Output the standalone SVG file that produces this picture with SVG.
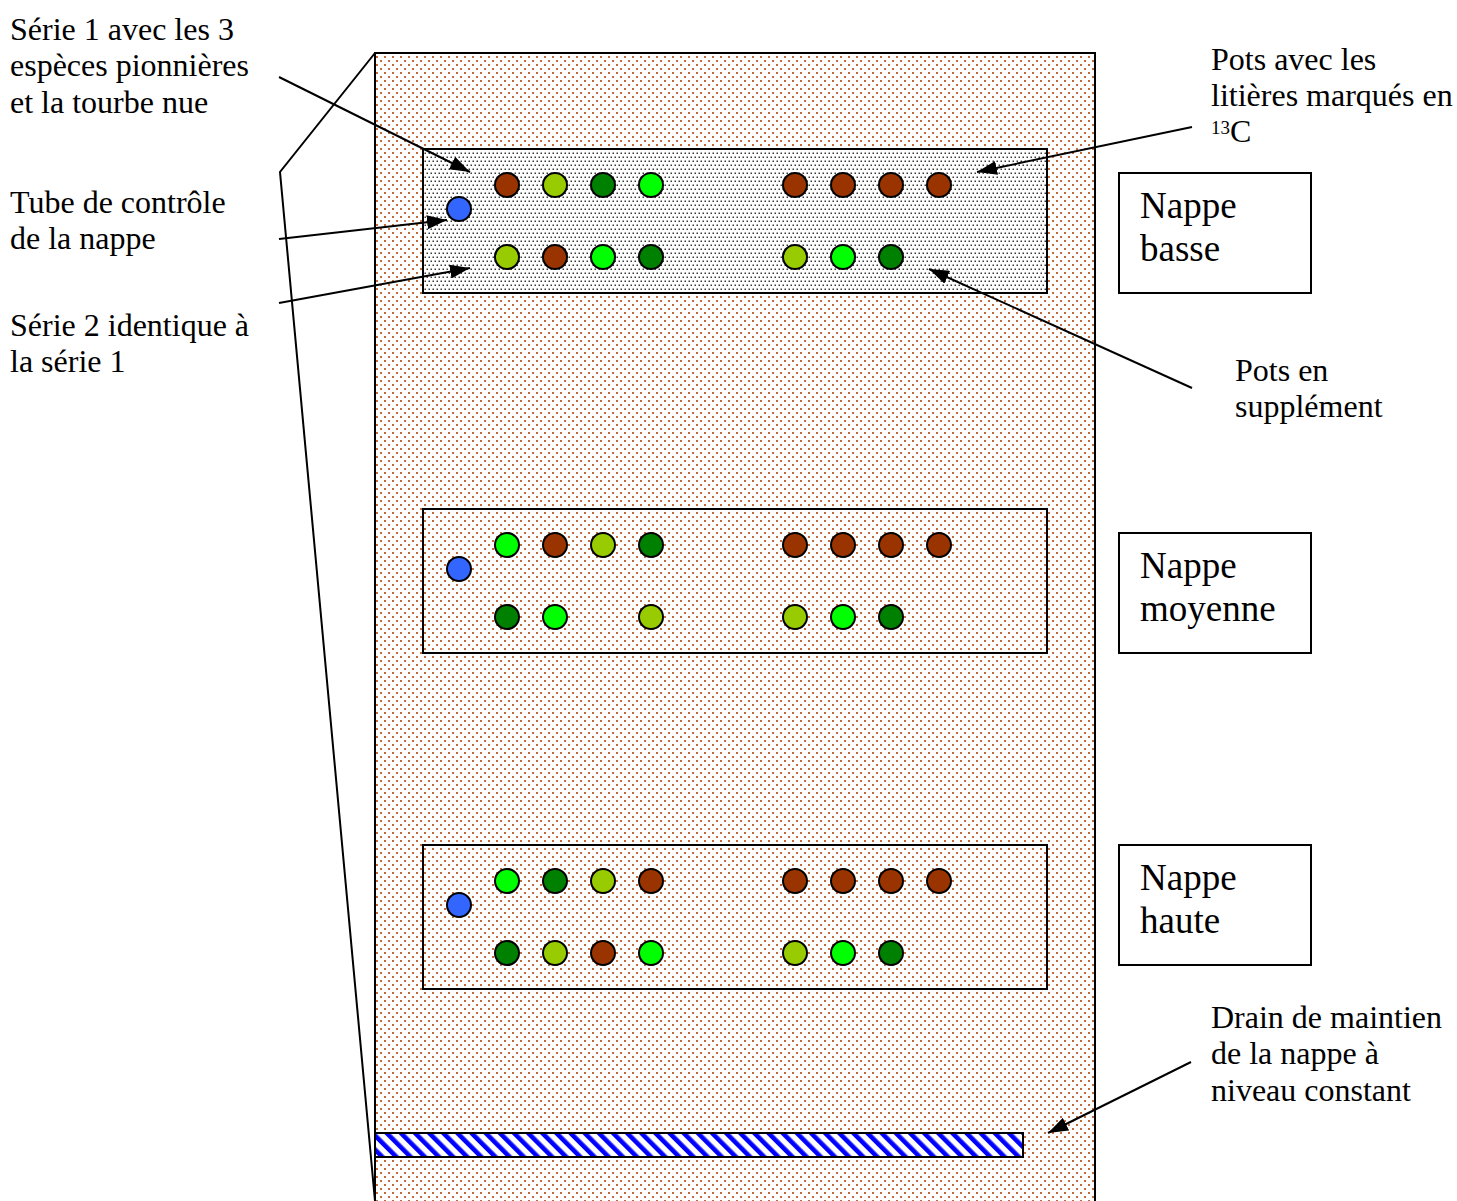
<svg xmlns="http://www.w3.org/2000/svg" width="1457" height="1201" viewBox="0 0 1457 1201">
  <style>
    .lbl { font-family: "Liberation Serif", "Times New Roman", serif; font-size: 32px; fill: #000; }
    .nap { font-family: "Liberation Serif", "Times New Roman", serif; font-size: 37px; fill: #000; }
    .frame { fill: none; stroke: #000; stroke-width: 2; }
    .pot { stroke: #000; stroke-width: 2; }
    .br { fill: #993300; }
    .yg { fill: #99CC00; }
    .dg { fill: #008000; }
    .bg { fill: #00FF00; }
    .tube { fill: #3366FF; }
    .conn { fill: none; stroke: #000; stroke-width: 2; }
  </style>
  <defs>
    <!-- peat background: sparse brown dots -->
    <pattern id="peat" patternUnits="userSpaceOnUse" width="8" height="8">
      <rect width="8" height="8" fill="#fff"/>
      <rect x="0" y="0" width="2" height="2" fill="#c26a3e"/>
      <rect x="4" y="4" width="2" height="2" fill="#c26a3e"/>
    </pattern>
    <!-- grey stippling of the lower water-table plot -->
    <pattern id="grey" patternUnits="userSpaceOnUse" width="8" height="8">
      <rect width="8" height="8" fill="#fff"/>
      <rect x="0.5" y="0.5" width="1.5" height="1.5" fill="#3a3a3a"/>
      <rect x="4.5" y="0.5" width="1.5" height="1.5" fill="#3a3a3a"/>
      <rect x="2.5" y="4.5" width="1.5" height="1.5" fill="#3a3a3a"/>
      <rect x="6.5" y="4.5" width="1.5" height="1.5" fill="#3a3a3a"/>
    </pattern>
    <!-- blue diagonal hatch of the drain -->
    <pattern id="hatch" patternUnits="userSpaceOnUse" width="10" height="10" patternTransform="rotate(-45)">
      <rect width="10" height="10" fill="#fff"/>
      <rect x="0" y="0" width="4.6" height="10" fill="#0000ff"/>
    </pattern>
    <marker id="arrow" markerUnits="userSpaceOnUse" markerWidth="20" markerHeight="14" refX="20" refY="7" orient="auto">
      <path d="M0,0 L20,7 L0,14 z" fill="#000"/>
    </marker>
  </defs>

  <!-- peat block -->
  <g id="block">
    <rect x="375" y="53" width="720" height="1160" fill="url(#peat)" stroke="#000" stroke-width="2"/>
    <polyline points="375,53 280,172 375,1201" class="frame"/>
  </g>

  <!-- drain -->
  <g id="drain">
    <rect x="375" y="1133" width="648" height="24" fill="url(#hatch)" stroke="#000" stroke-width="2"/>
  </g>

  <!-- lower water table plot -->
  <g id="plot-basse">
    <rect x="423" y="149" width="624" height="144" fill="url(#grey)" stroke="#000" stroke-width="2"/>
    <circle class="pot tube" cx="459" cy="209" r="12"/>
    <circle class="pot br" cx="507" cy="185" r="12"/>
    <circle class="pot yg" cx="555" cy="185" r="12"/>
    <circle class="pot dg" cx="603" cy="185" r="12"/>
    <circle class="pot bg" cx="651" cy="185" r="12"/>
    <circle class="pot br" cx="795" cy="185" r="12"/>
    <circle class="pot br" cx="843" cy="185" r="12"/>
    <circle class="pot br" cx="891" cy="185" r="12"/>
    <circle class="pot br" cx="939" cy="185" r="12"/>
    <circle class="pot yg" cx="507" cy="257" r="12"/>
    <circle class="pot br" cx="555" cy="257" r="12"/>
    <circle class="pot bg" cx="603" cy="257" r="12"/>
    <circle class="pot dg" cx="651" cy="257" r="12"/>
    <circle class="pot yg" cx="795" cy="257" r="12"/>
    <circle class="pot bg" cx="843" cy="257" r="12"/>
    <circle class="pot dg" cx="891" cy="257" r="12"/>
  </g>

  <!-- middle water table plot -->
  <g id="plot-moyenne">
    <rect x="423" y="509" width="624" height="144" class="frame"/>
    <circle class="pot tube" cx="459" cy="569" r="12"/>
    <circle class="pot bg" cx="507" cy="545" r="12"/>
    <circle class="pot br" cx="555" cy="545" r="12"/>
    <circle class="pot yg" cx="603" cy="545" r="12"/>
    <circle class="pot dg" cx="651" cy="545" r="12"/>
    <circle class="pot br" cx="795" cy="545" r="12"/>
    <circle class="pot br" cx="843" cy="545" r="12"/>
    <circle class="pot br" cx="891" cy="545" r="12"/>
    <circle class="pot br" cx="939" cy="545" r="12"/>
    <circle class="pot dg" cx="507" cy="617" r="12"/>
    <circle class="pot bg" cx="555" cy="617" r="12"/>
    <circle class="pot yg" cx="651" cy="617" r="12"/>
    <circle class="pot yg" cx="795" cy="617" r="12"/>
    <circle class="pot bg" cx="843" cy="617" r="12"/>
    <circle class="pot dg" cx="891" cy="617" r="12"/>
  </g>

  <!-- upper water table plot -->
  <g id="plot-haute">
    <rect x="423" y="845" width="624" height="144" class="frame"/>
    <circle class="pot tube" cx="459" cy="905" r="12"/>
    <circle class="pot bg" cx="507" cy="881" r="12"/>
    <circle class="pot dg" cx="555" cy="881" r="12"/>
    <circle class="pot yg" cx="603" cy="881" r="12"/>
    <circle class="pot br" cx="651" cy="881" r="12"/>
    <circle class="pot br" cx="795" cy="881" r="12"/>
    <circle class="pot br" cx="843" cy="881" r="12"/>
    <circle class="pot br" cx="891" cy="881" r="12"/>
    <circle class="pot br" cx="939" cy="881" r="12"/>
    <circle class="pot dg" cx="507" cy="953" r="12"/>
    <circle class="pot yg" cx="555" cy="953" r="12"/>
    <circle class="pot br" cx="603" cy="953" r="12"/>
    <circle class="pot bg" cx="651" cy="953" r="12"/>
    <circle class="pot yg" cx="795" cy="953" r="12"/>
    <circle class="pot bg" cx="843" cy="953" r="12"/>
    <circle class="pot dg" cx="891" cy="953" r="12"/>
  </g>

  <!-- water table name boxes -->
  <g id="box-basse">
    <rect x="1119" y="173" width="192" height="120" fill="#fff" stroke="#000" stroke-width="2"/>
    <text class="nap" x="1140" y="218">Nappe</text>
    <text class="nap" x="1140" y="261">basse</text>
  </g>
  <g id="box-moyenne">
    <rect x="1119" y="533" width="192" height="120" fill="#fff" stroke="#000" stroke-width="2"/>
    <text class="nap" x="1140" y="578">Nappe</text>
    <text class="nap" x="1140" y="621">moyenne</text>
  </g>
  <g id="box-haute">
    <rect x="1119" y="845" width="192" height="120" fill="#fff" stroke="#000" stroke-width="2"/>
    <text class="nap" x="1140" y="890">Nappe</text>
    <text class="nap" x="1140" y="933">haute</text>
  </g>

  <!-- annotations -->
  <g id="label-serie1">
    <text class="lbl" x="10" y="40">Série 1 avec les 3</text>
    <text class="lbl" x="10" y="76">espèces pionnières</text>
    <text class="lbl" x="10" y="113">et la tourbe nue</text>
  </g>
  <g id="label-tube">
    <text class="lbl" x="10" y="213">Tube de contrôle</text>
    <text class="lbl" x="10" y="249">de la nappe</text>
  </g>
  <g id="label-serie2">
    <text class="lbl" x="10" y="336">Série 2 identique à</text>
    <text class="lbl" x="10" y="372">la série 1</text>
  </g>
  <g id="label-marques">
    <text class="lbl" x="1211" y="70">Pots avec les</text>
    <text class="lbl" x="1211" y="106">litières marqués en</text>
    <text class="lbl" x="1211" y="142"><tspan font-size="19" dy="-8">13</tspan><tspan dy="8">C</tspan></text>
  </g>
  <g id="label-supplement">
    <text class="lbl" x="1235" y="381">Pots en</text>
    <text class="lbl" x="1235" y="417">supplément</text>
  </g>
  <g id="label-drain">
    <text class="lbl" x="1211" y="1028">Drain de maintien</text>
    <text class="lbl" x="1211" y="1064">de la nappe à</text>
    <text class="lbl" x="1211" y="1101">niveau constant</text>
  </g>

  <!-- leader arrows -->
  <g id="connectors">
    <line class="conn" x1="279" y1="77" x2="470" y2="172" marker-end="url(#arrow)"/>
    <line class="conn" x1="279" y1="239" x2="447" y2="220" marker-end="url(#arrow)"/>
    <line class="conn" x1="279" y1="303" x2="470" y2="268" marker-end="url(#arrow)"/>
    <line class="conn" x1="1192" y1="127" x2="977" y2="172" marker-end="url(#arrow)"/>
    <line class="conn" x1="1192" y1="388" x2="929" y2="269" marker-end="url(#arrow)"/>
    <line class="conn" x1="1191" y1="1062" x2="1048" y2="1133" marker-end="url(#arrow)"/>
  </g>
</svg>
